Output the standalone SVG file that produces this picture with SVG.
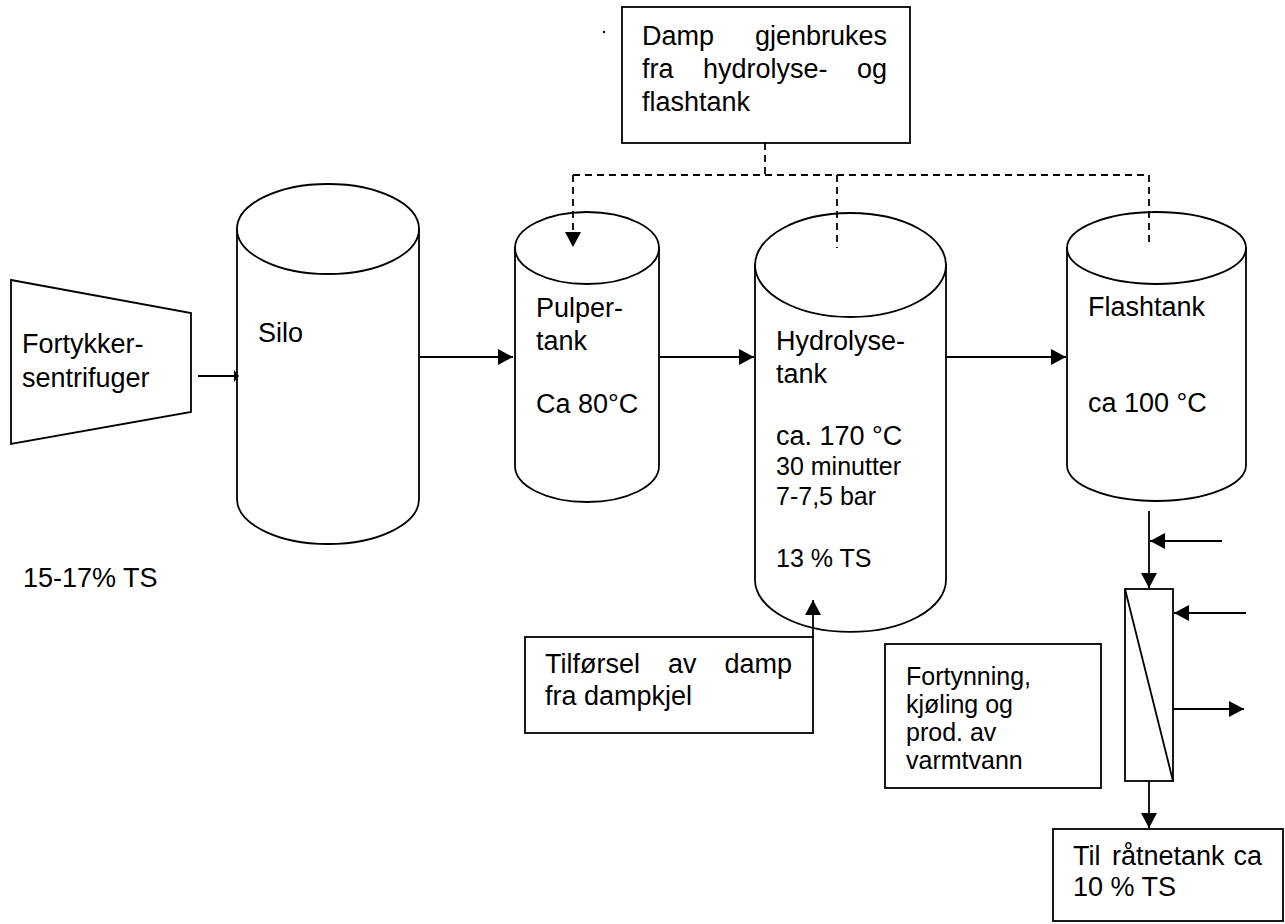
<svg xmlns="http://www.w3.org/2000/svg" width="1285" height="924" viewBox="0 0 1285 924">
<style>
.s{fill:#fff;stroke:#000;stroke-width:1.8}
.ln{fill:none;stroke:#000;stroke-width:1.8}
.d{fill:none;stroke:#000;stroke-width:1.8;stroke-dasharray:7 5}
text{font-family:"Liberation Sans",Arial,sans-serif;font-size:27px;fill:#000}
.sm{font-size:25px}
</style>
<defs>
<marker id="ah" markerUnits="userSpaceOnUse" markerWidth="16" markerHeight="18" refX="15" refY="8" orient="auto">
<path d="M0,0 L15,8 L0,16 Z" fill="#000"/>
</marker>
</defs>
<rect width="1285" height="924" fill="#fff"/>

<g id="steam-reuse">
<rect class="s" x="622" y="7" width="288" height="136"/>
<text x="642" y="45">Damp</text>
<text x="887" y="45" text-anchor="end">gjenbrukes</text>
<text x="642" y="78">fra</text>
<text x="703" y="78">hydrolyse-</text>
<text x="887" y="78" text-anchor="end">og</text>
<text x="642" y="111">flashtank</text>
<circle cx="604" cy="32" r="1.2" fill="#000"/>
</g>

<g id="centrifuge">
<polygon class="s" points="11,280 191,313 191,412 11,444"/>
<text x="22" y="353">Fortykker-</text>
<text x="22" y="387">sentrifuger</text>
</g>

<g id="ts-label">
<text x="23" y="587">15-17% TS</text>
</g>

<g id="silo">
<path class="s" d="M237,229 L237,499 A91,45 0 0 0 419,499 L419,229 Z"/>
<ellipse class="s" cx="328" cy="229" rx="91" ry="45"/>
<text x="258" y="342">Silo</text>
</g>

<g id="pulper">
<path class="s" d="M515,248 L515,466 A72,36 0 0 0 659,466 L659,248 Z"/>
<ellipse class="s" cx="587" cy="248" rx="72" ry="36"/>
<text x="536" y="317">Pulper-</text>
<text x="536" y="350">tank</text>
<text x="536" y="413">Ca 80°C</text>
</g>

<g id="hydrolyse">
<path class="s" d="M755,265 L755,580 A95.5,52 0 0 0 946,580 L946,265 Z"/>
<ellipse class="s" cx="850.5" cy="265" rx="95.5" ry="52"/>
<text x="776" y="350">Hydrolyse-</text>
<text x="776" y="383">tank</text>
<text x="776" y="445">ca. 170 °C</text>
<text class="sm" x="776" y="475">30 minutter</text>
<text class="sm" x="776" y="505">7-7,5 bar</text>
<text class="sm" x="776" y="567">13 % TS</text>
</g>

<g id="flashtank">
<path class="s" d="M1067,248 L1067,465 A89.5,36 0 0 0 1246,465 L1246,248 Z"/>
<ellipse class="s" cx="1156.5" cy="248" rx="89.5" ry="36"/>
<text x="1088" y="316">Flashtank</text>
<text x="1088" y="412">ca 100 °C</text>
</g>

<g id="steam-supply">
<rect class="s" x="525" y="637" width="288" height="96"/>
<text x="545" y="673">Tilførsel</text>
<text x="668" y="673">av</text>
<text x="792" y="673" text-anchor="end">damp</text>
<text x="545" y="705">fra dampkjel</text>
</g>

<g id="heat-exchanger">
<rect class="s" x="1125" y="589" width="48" height="192"/>
<line class="ln" x1="1125" y1="589" x2="1173" y2="781"/>
</g>

<g id="cooling-label">
<rect class="s" x="885" y="644" width="216" height="144"/>
<text class="sm" x="906" y="685">Fortynning,</text>
<text class="sm" x="906" y="713">kjøling og</text>
<text class="sm" x="906" y="741">prod. av</text>
<text class="sm" x="906" y="769">varmtvann</text>
</g>

<g id="digester">
<rect class="s" x="1053" y="829" width="230" height="92"/>
<text x="1073" y="865">Til</text>
<text x="1112" y="865">råtnetank</text>
<text x="1262" y="865" text-anchor="end">ca</text>
<text x="1073" y="896">10 % TS</text>
</g>

<g id="connectors">
<line class="ln" x1="198" y1="376" x2="236" y2="376"/>
<polygon points="234,370 239,376 234,382" fill="#000"/>
<line class="ln" x1="419" y1="357" x2="513" y2="357" marker-end="url(#ah)"/>
<line class="ln" x1="659" y1="357" x2="754" y2="357" marker-end="url(#ah)"/>
<line class="ln" x1="946" y1="357" x2="1066" y2="357" marker-end="url(#ah)"/>
<line class="ln" x1="813" y1="637" x2="813" y2="600" marker-end="url(#ah)"/>
<line class="d" x1="765" y1="143" x2="765" y2="175"/>
<line class="d" x1="573" y1="175" x2="1149" y2="175"/>
<line class="d" x1="573" y1="175" x2="573" y2="247" marker-end="url(#ah)"/>
<line class="d" x1="837" y1="175" x2="837" y2="248"/>
<line class="d" x1="1149" y1="175" x2="1149" y2="247"/>
<line class="ln" x1="1149" y1="511" x2="1149" y2="588" marker-end="url(#ah)"/>
<line class="ln" x1="1222" y1="541" x2="1150" y2="541" marker-end="url(#ah)"/>
<line class="ln" x1="1246" y1="613" x2="1174" y2="613" marker-end="url(#ah)"/>
<line class="ln" x1="1173" y1="709" x2="1244" y2="709" marker-end="url(#ah)"/>
<line class="ln" x1="1149" y1="781" x2="1149" y2="828" marker-end="url(#ah)"/>
</g>
</svg>
